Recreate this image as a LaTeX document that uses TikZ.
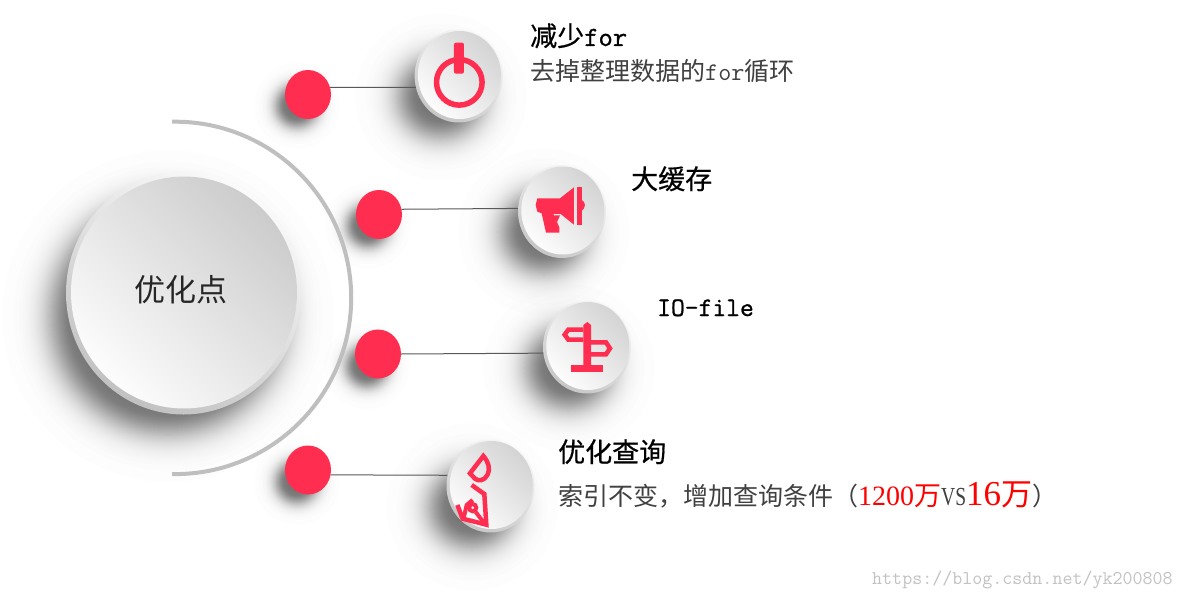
\documentclass[tikz,border=0pt]{standalone}
\usepackage{fontspec}
\setmainfont{Noto Sans CJK SC}
\newfontfamily\titlefont[FakeBold=0.6]{Noto Sans CJK SC}
\newfontfamily\titlemono[FakeBold=1]{Latin Modern Mono}
\newfontfamily\latinserif{Liberation Serif}
\newfontfamily\narrowserif[FakeStretch=0.75]{Liberation Serif}
\usetikzlibrary{shapes.geometric}
\definecolor{pinkred}{HTML}{FF2D4F}
\definecolor{subgrey}{HTML}{404040}
\newcommand{\softglow}[5]{%
  \foreach \k in {0,...,79}{%
    \pgfmathsetmacro{\tt}{(\k+0.5)/80}%
    \pgfmathsetmacro{\dd}{-#5*ln(\tt/(1-\tt))}%
    \fill[black,opacity=.0095] (#1,#2) ellipse [x radius=#3pt+\dd pt, y radius=#4pt+\dd pt];
  }}
\tikzset{
  dotnode/.style={ellipse,inner sep=0pt,minimum width=46pt,minimum height=49pt,fill=pinkred},
  rimnode/.style={ellipse,inner sep=0pt,minimum width=88pt,minimum height=93pt,shade,
    top color=black!3,bottom color=black!22,shading angle=-30},
  facenode/.style={ellipse,inner sep=0pt,minimum width=83pt,minimum height=88pt,shade,
    top color=black!17,middle color=black!5,bottom color=black!1,shading angle=-45},
  linkline/.style={draw=black!65,line width=1pt},
  iconfill/.style={fill=pinkred,draw=none},
  iconline/.style={draw=pinkred,line width=4.5pt,fill=none,line join=miter},
  titletext/.style={inner sep=0pt,anchor=base west,text=black,font=\titlefont\fontsize{27}{30}\selectfont},
  subtext/.style={inner sep=0pt,anchor=base west,text=subgrey,font=\fontsize{25}{30}\selectfont}
}
\begin{document}
\begin{tikzpicture}[x=1pt,y=-1pt]
\useasboundingbox (0,0) rectangle (1183,599);
\fill[white] (0,0) rectangle (1183,599);
% soft shadows
\softglow{168}{316}{115}{115}{10}
\softglow{441}{97}{40}{38}{9}
\softglow{544}{232}{40}{38}{9}
\softglow{569}{368}{40}{38}{9}
\softglow{472}{507}{40}{38}{9}
\softglow{297}{106}{20}{20}{4.5}
\softglow{368}{226}{20}{20}{4.5}
\softglow{367}{366}{20}{20}{4.5}
\softglow{297}{482}{20}{20}{4.5}
% arc
\draw[draw=black!25,line width=4pt] (172,121.7) -- (175,121.7) arc[start angle=90,end angle=-90,radius=176.2pt] -- (172,474.1);
% central disc
\node[ellipse,inner sep=0pt,minimum width=235pt,minimum height=243pt,shade,top color=black!2,bottom color=black!24,shading angle=-30] (rim) at (183.5,293) {};
\node[ellipse,inner sep=0pt,minimum width=226pt,minimum height=232pt,shade,top color=black!20,middle color=black!6,bottom color=black!1,shading angle=-45] (face) at (184,292.5) {};
\node[inner sep=0pt,font=\fontsize{31}{34}\selectfont,text=black!85] (lab) at (180.5,290) {优化点};
% red dots
\node[dotnode] (d1) at (308,94.5) {};
\node[dotnode] (d2) at (379,214.5) {};
\node[dotnode] (d3) at (378,354) {};
\node[dotnode] (d4) at (308,470) {};
% buttons
\node[rimnode] (r1) at (458.6,76) {};
\node[rimnode] (r2) at (562,211.5) {};
\node[rimnode] (r3) at (587,347) {};
\node[rimnode] (r4) at (490.5,486) {};
\node[facenode] (b1) at (459.4,75) {};
\node[facenode] (b2) at (562.8,210.5) {};
\node[facenode] (b3) at (587.8,346) {};
\node[facenode] (b4) at (491.3,485) {};
% connectors
\draw[linkline] (d1.18) -- (r1.195);
\draw[linkline] (d2.13) -- (r2.176);
\draw[linkline] (d3.0) -- (r3.188.7);
\draw[linkline] (d4.-12) -- (r4.166);
% power icon
\begin{scope}[shift={(270,10)},x=.3333pt,y=-.3333pt]
  \draw[draw=pinkred,line width=5.5pt] (568,217) circle [radius=22.8pt];
  \fill[iconfill,rounded corners=2pt] (552,98) rectangle (582,191);
\end{scope}
% megaphone icon
\begin{scope}[shift={(500,150)},x=.3333pt,y=-.3333pt]
  \fill[iconfill,even odd rule] (112,145) -- (180,145) -- (222,112) -- (222,224) -- (182,192) -- (160,192) -- (178,232) -- (178,248) -- (138,248) -- (125,190) -- (112,185) -- (107,165) -- cycle
    (162,196) -- (180,196) -- (172,215) -- cycle;
  \fill[iconfill] (230,112) rectangle (245,224);
  \fill[iconfill] (245,150) .. controls (258,155) and (258,175) .. (245,182) -- cycle;
\end{scope}
% signpost icon
\begin{scope}[shift={(530,290)},x=.3333pt,y=-.3333pt]
  \fill[iconfill] (160,105) -- (172,96) -- (183,105) -- (183,228) -- (160,228) -- cycle;
  \fill[iconfill] (124,226) rectangle (220,246);
  \draw[iconline] (160,119) -- (115,119) -- (104,134) -- (115,149) -- (160,149);
  \draw[iconline] (183,157) -- (228,157) -- (240,175) -- (228,193) -- (183,193);
\end{scope}
% compass icon
\begin{scope}[shift={(450,450)},x=.3333pt,y=-.3333pt]
  \draw[iconline] (100,18) .. controls (115,35) and (122,55) .. (112,75) .. controls (103,93) and (85,94) .. (75,86) -- (60,70) -- cycle;
  \draw[iconline] (65,105) -- (103,132) -- (109,224) -- (38,206) -- (22,165);
  \draw[draw=pinkred,line width=4pt] (68,173) circle [radius=3.6pt];
  \draw[draw=pinkred,line width=4pt] (77,186) -- (100,216);
  \draw[draw=pinkred,line width=4pt] (42,200) -- (50,165) -- (68,150);
\end{scope}
% texts
\node[titletext] (t1) at (530,46) {减少{\ttfamily\fontsize{27.8}{30}\selectfont\titlemono for}};
\node[subtext] (s1) at (530,81) {去掉整理数据的{\ttfamily\fontsize{25.4}{30}\selectfont for}循环};
\node[titletext] (t2) at (631,189) {大缓存};
\node[titletext,font=\titlemono\fontsize{26.8}{30}\selectfont] (t3) at (657,316) {IO-file};
\node[titletext] (t4) at (558,462) {优化查询};
\node[subtext] (s4) at (558,505) {索引不变，增加查询条件（{\color{red}{\latinserif\fontsize{28}{30}\selectfont 1200}\fontsize{27}{30}\selectfont 万}{\narrowserif\fontsize{26}{30}\selectfont VS}{\color{red}{\latinserif\fontsize{35}{30}\selectfont 16}\fontsize{31}{30}\selectfont 万}）};
\node[inner sep=0pt,anchor=base west,text=black!24,font=\ttfamily\fontsize{19.45}{20}\selectfont] (wm) at (872,584) {https://blog.csdn.net/yk200808};
\end{tikzpicture}
\end{document}
